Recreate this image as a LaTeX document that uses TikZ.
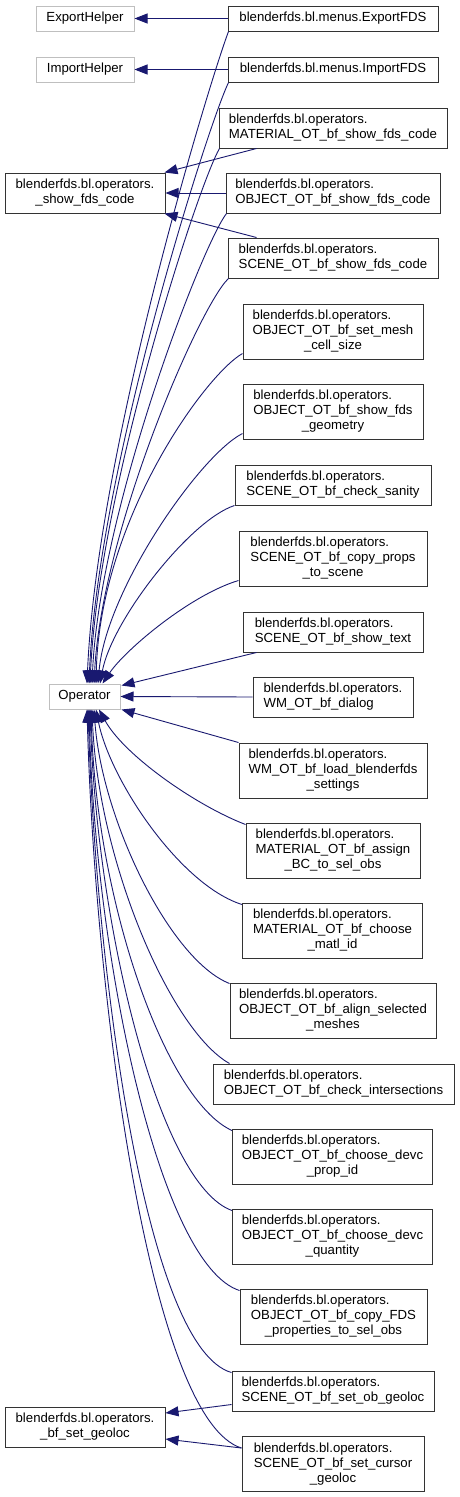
\documentclass[tikz,border=0pt]{standalone}
\usepackage{fontspec}
\setmainfont{Liberation Sans}
\usetikzlibrary{arrows.meta,calc}
\definecolor{edgeblue}{RGB}{25,25,112}
\definecolor{grayborder}{RGB}{191,191,191}
\newcommand{\twol}[2]{\begin{tabular}{@{}l@{}}#1\\#2\end{tabular}}
\newcommand{\twoc}[2]{\begin{tabular}{@{}c@{}}#1\\#2\end{tabular}}
\newcommand{\threel}[3]{\begin{tabular}{@{}l@{}}#1\\#2\\\multicolumn{1}{@{}c@{}}{#3}\end{tabular}}
\newcommand{\bfo}{blenderfds.bl.operators.}
\begin{document}
\begin{tikzpicture}[x=1pt,y=-1pt,
  box/.style={draw=black!80, line width=1pt, fill=white, inner sep=0pt,
    font=\fontsize{13.2}{15}\selectfont, anchor=center},
  graybox/.style={box, draw=grayborder},
  edge/.style={draw=edgeblue, line width=0.9pt, -{Triangle[length=13pt,width=10pt]}}]
\useasboundingbox[fill=white] (0,0) rectangle (459,1497);

% nodes
\node[graybox, minimum width=98pt, minimum height=25pt] (exph) at (85,18.5) {ExportHelper};
\node[box, minimum width=210pt, minimum height=25pt] (expfds) at (333,18.5) {blenderfds.bl.menus.ExportFDS};
\node[graybox, minimum width=98pt, minimum height=25pt] (imph) at (85,69.5) {ImportHelper};
\node[box, minimum width=210pt, minimum height=25pt] (impfds) at (333,69.5) {blenderfds.bl.menus.ImportFDS};
\node[box, minimum width=228pt, minimum height=40pt] (matshow) at (333,128) {\twol{\bfo}{MATERIAL\_OT\_bf\_show\_fds\_code}};
\node[box, minimum width=160pt, minimum height=40pt] (showfds) at (85,193) {\twoc{\bfo}{\_show\_fds\_code}};
\node[box, minimum width=214pt, minimum height=40pt] (objshow) at (333,193) {\twol{\bfo}{OBJECT\_OT\_bf\_show\_fds\_code}};
\node[box, minimum width=210pt, minimum height=40pt] (sceneshow) at (333,258) {\twol{\bfo}{SCENE\_OT\_bf\_show\_fds\_code}};
\node[box, minimum width=180pt, minimum height=55pt] (setmesh) at (333,331.5) {\threel{\bfo}{OBJECT\_OT\_bf\_set\_mesh}{\_cell\_size}};
\node[box, minimum width=180pt, minimum height=55pt] (showgeom) at (333,411.5) {\threel{\bfo}{OBJECT\_OT\_bf\_show\_fds}{\_geometry}};
\node[box, minimum width=196pt, minimum height=40pt] (sanity) at (333,485) {\twol{\bfo}{SCENE\_OT\_bf\_check\_sanity}};
\node[box, minimum width=188pt, minimum height=55pt] (copyprops) at (333,558.5) {\threel{\bfo}{SCENE\_OT\_bf\_copy\_props}{\_to\_scene}};
\node[box, minimum width=180pt, minimum height=40pt] (showtext) at (333,632) {\twol{\bfo}{SCENE\_OT\_bf\_show\_text}};
\node[graybox, minimum width=71pt, minimum height=25pt] (op) at (84.5,696.5) {Operator};
\node[box, minimum width=160pt, minimum height=40pt] (dialog) at (333,697) {\twol{\bfo}{WM\_OT\_bf\_dialog}};
\node[box, minimum width=188pt, minimum height=55pt] (loadset) at (333,770.5) {\threel{\bfo}{WM\_OT\_bf\_load\_blenderfds}{\_settings}};
\node[box, minimum width=174pt, minimum height=55pt] (assignbc) at (333,850.5) {\threel{\bfo}{MATERIAL\_OT\_bf\_assign}{\_BC\_to\_sel\_obs}};
\node[box, minimum width=180pt, minimum height=55pt] (matlid) at (332.5,930.5) {\threel{\bfo}{MATERIAL\_OT\_bf\_choose}{\_matl\_id}};
\node[box, minimum width=206pt, minimum height=55pt] (alignm) at (333,1010.5) {\threel{\bfo}{OBJECT\_OT\_bf\_align\_selected}{\_meshes}};
\node[box, minimum width=241pt, minimum height=40pt] (checkint) at (333.5,1084) {\twol{\bfo}{OBJECT\_OT\_bf\_check\_intersections}};
\node[box, minimum width=200pt, minimum height=55pt] (devcprop) at (332.5,1156.5) {\threel{\bfo}{OBJECT\_OT\_bf\_choose\_devc}{\_prop\_id}};
\node[box, minimum width=200pt, minimum height=55pt] (devcqty) at (332.5,1236.5) {\threel{\bfo}{OBJECT\_OT\_bf\_choose\_devc}{\_quantity}};
\node[box, minimum width=187pt, minimum height=55pt] (copyfds) at (333.5,1316.5) {\threel{\bfo}{OBJECT\_OT\_bf\_copy\_FDS}{\_properties\_to\_sel\_obs}};
\node[box, minimum width=202pt, minimum height=40pt] (obgeo) at (333,1391) {\twol{\bfo}{SCENE\_OT\_bf\_set\_ob\_geoloc}};
\node[box, minimum width=160pt, minimum height=40pt] (bfgeo) at (85,1427) {\twoc{\bfo}{\_bf\_set\_geoloc}};
\node[box, minimum width=182pt, minimum height=55pt] (cursorgeo) at (333,1464) {\threel{\bfo}{SCENE\_OT\_bf\_set\_cursor}{\_geoloc}};

% straight edges
\draw[edge] (expfds.west) -- (exph.east);
\draw[edge] (impfds.west) -- (imph.east);
\draw[edge] ($(matshow.south west)+(38,0)$) -- ($(showfds.north east)+(-1,0)$);
\draw[edge] (objshow.west) -- (showfds.east);
\draw[edge] ($(sceneshow.north west)+(29,0)$) -- ($(showfds.south east)+(-1,0)$);
\draw[edge] ($(showtext.south west)+(14,0)$) -- ($(op.north east)+(1,2)$);
\draw[edge] (dialog.west) -- (op.east);
\draw[edge] (loadset.north west) -- ($(op.south east)+(1,0)$);
\draw[edge] ($(obgeo.south west)+(0,-7)$) -- ($(bfgeo.east)+(0,-14)$);
\draw[edge] ($(cursorgeo.north west)+(0,12)$) -- ($(bfgeo.east)+(0,12)$);

% curved edges into Operator top
\draw[edge] ($(expfds.south west)+(1,0)$) .. controls (210,80) and (97,450) .. ($(op.north)+(2.5,0)$);
\draw[edge] ($(impfds.south west)+(1,0)$) .. controls (208,125) and (98,470) .. ($(op.north)+(4.5,0)$);
\draw[edge] ($(matshow.south west)+(1,0)$) .. controls (198,185) and (99,490) .. ($(op.north)+(5.5,0)$);
\draw[edge] ($(objshow.south west)+(1,0)$) .. controls (202,245) and (100,510) .. ($(op.north)+(7.5,0)$);
\draw[edge] ($(sceneshow.south west)+(1,0)$) .. controls (200,305) and (102,530) .. ($(op.north)+(9.5,0)$);
\draw[edge] ($(setmesh.south west)+(0,-6)$) .. controls (205,375) and (100,520) .. ($(op.north)+(11.5,0)$);
\draw[edge] ($(showgeom.south west)+(0,-6)$) .. controls (200,455) and (106,590) .. ($(op.north)+(13.5,0)$);
\draw[edge] (sanity.south west) .. controls (190,520) and (112,620) .. ($(op.north)+(15.5,0)$);
\draw[edge] ($(copyprops.south west)+(0,-6)$) .. controls (190,595) and (125,650) .. ($(op.north)+(18,0)$);

% curved edges into Operator bottom
\draw[edge] ($(assignbc.north west)+(0,2)$) .. controls (195,805) and (124,755) .. ($(op.south)+(14.5,0)$);
\draw[edge] ($(matlid.north west)+(0,2)$) .. controls (180,885) and (110,780) .. ($(op.south)+(11.5,0)$);
\draw[edge] ($(alignm.north west)+(0,1)$) .. controls (170,960) and (102,820) .. ($(op.south)+(9.5,0)$);
\draw[edge] ($(checkint.north west)+(17,0)$) .. controls (170,1030) and (98,860) .. ($(op.south)+(7.5,0)$);
\draw[edge] ($(devcprop.north west)+(0,2)$) .. controls (165,1100) and (96,900) .. ($(op.south)+(6.5,0)$);
\draw[edge] ($(devcqty.north west)+(0,2)$) .. controls (160,1185) and (97,930) .. ($(op.south)+(5.5,0)$);
\draw[edge] ($(copyfds.north west)+(0,2)$) .. controls (160,1265) and (95,960) .. ($(op.south)+(4.5,0)$);
\draw[edge] ($(obgeo.north west)+(0,2)$) .. controls (145,1348) and (96,970) .. ($(op.south)+(3.5,0)$);
\draw[edge] ($(cursorgeo.north west)+(0,12)$) .. controls (150,1420) and (95,1000) .. ($(op.south)+(2.5,0)$);
\end{tikzpicture}
\end{document}
